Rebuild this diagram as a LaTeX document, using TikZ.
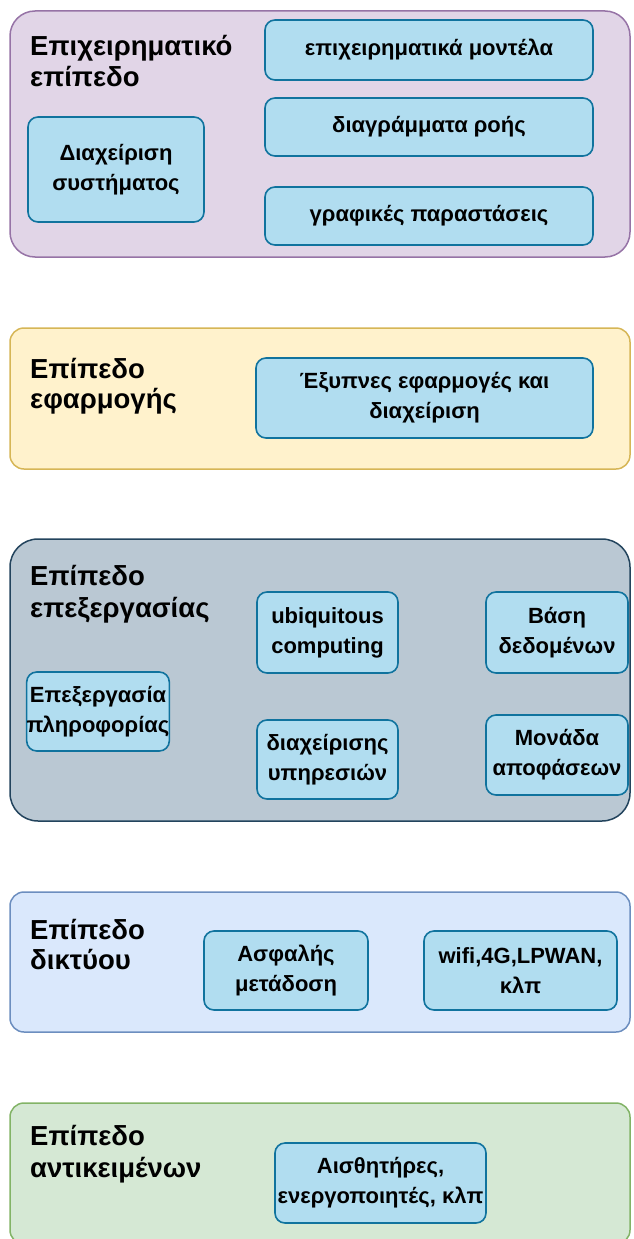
\documentclass[tikz,border=0pt]{standalone}
\usepackage{fontspec}
\setmainfont{Liberation Sans}
\definecolor{purpleFill}{HTML}{E1D5E7}
\definecolor{purpleLine}{HTML}{9673A6}
\definecolor{yellowFill}{HTML}{FFF2CC}
\definecolor{yellowLine}{HTML}{D6B656}
\definecolor{slateFill}{HTML}{BAC8D3}
\definecolor{slateLine}{HTML}{23445D}
\definecolor{blueFill}{HTML}{DAE8FC}
\definecolor{blueLine}{HTML}{6C8EBF}
\definecolor{greenFill}{HTML}{D5E8D4}
\definecolor{greenLine}{HTML}{82B366}
\definecolor{cellFill}{HTML}{B1DDF0}
\definecolor{cellLine}{HTML}{10739E}
\tikzset{
  layer/.style={line width=1.5pt, inner sep=0pt, rounded corners=#1},
  layertitle/.style={anchor=base west, inner sep=0pt,
    font=\fontsize{27.5}{31}\selectfont\bfseries},
  cell/.style={draw=cellLine, fill=cellFill, line width=1.6pt, inner sep=0pt,
    rounded corners=10pt, align=center,
    font=\fontsize{22}{30}\selectfont\bfseries},
}
\begin{document}
\begin{tikzpicture}[x=1pt, y=-1pt]
\useasboundingbox (0,0) rectangle (633,1239);

% business layer
\node[layer=25pt, draw=purpleLine, fill=purpleFill,
      minimum width=620pt, minimum height=246pt] (L1) at (320,134) {};
\node[layertitle] (t1a) at (30,56) {Επιχειρηματικό};
\node[layertitle] (t1b) at (30,86) {επίπεδο};
\node[cell, minimum width=328pt, minimum height=60pt] (a1) at (429,50) {επιχειρηματικά μοντέλα};
\node[cell, minimum width=328pt, minimum height=58pt] (a2) at (429,127) {διαγράμματα ροής};
\node[cell, minimum width=328pt, minimum height=58pt] (a3) at (429,216) {γραφικές παραστάσεις};
\node[cell, minimum width=176pt, minimum height=105pt] (a4) at (116,169.5) {Διαχείριση\\συστήματος};

% application layer
\node[layer=14pt, draw=yellowLine, fill=yellowFill,
      minimum width=620pt, minimum height=141pt] (L2) at (320,398.5) {};
\node[layertitle] (t2a) at (30,378) {Επίπεδο};
\node[layertitle] (t2b) at (30,408) {εφαρμογής};
\node[cell, minimum width=337pt, minimum height=80pt] (b1) at (424.5,398) {Έξυπνες εφαρμογές και\\διαχείριση};

% processing layer
\node[layer=28pt, draw=slateLine, fill=slateFill,
      minimum width=620pt, minimum height=282pt] (L3) at (320,680) {};
\node[layertitle] (t3a) at (30,585) {Επίπεδο};
\node[layertitle] (t3b) at (30,617) {επεξεργασίας};
\node[cell, minimum width=141pt, minimum height=81pt] (c1) at (327.5,632.5) {ubiquitous\\computing};
\node[cell, minimum width=142pt, minimum height=81pt] (c2) at (557,632.5) {Βάση\\δεδομένων};
\node[cell, minimum width=142pt, minimum height=79pt] (c3) at (98,711.5) {Επεξεργασία\\πληροφορίας};
\node[cell, minimum width=141pt, minimum height=79pt] (c4) at (327.5,759.5) {διαχείρισης\\υπηρεσιών};
\node[cell, minimum width=142pt, minimum height=80pt] (c5) at (557,755) {Μονάδα\\αποφάσεων};

% network layer
\node[layer=14pt, draw=blueLine, fill=blueFill,
      minimum width=620pt, minimum height=140pt] (L4) at (320,962) {};
\node[layertitle] (t4a) at (30,939) {Επίπεδο};
\node[layertitle] (t4b) at (30,969) {δικτύου};
\node[cell, minimum width=164pt, minimum height=79pt] (d1) at (286,970.5) {Ασφαλής\\μετάδοση};
\node[cell, minimum width=193pt, minimum height=79pt] (d2) at (520.5,970.5) {wifi,4G,LPWAN,\\κλπ};

% object layer
\node[layer=14pt, draw=greenLine, fill=greenFill,
      minimum width=620pt, minimum height=141pt] (L5) at (320,1173.5) {};
\node[layertitle] (t5a) at (30,1145) {Επίπεδο};
\node[layertitle] (t5b) at (30,1177) {αντικειμένων};
\node[cell, minimum width=211pt, minimum height=80pt] (e1) at (380.5,1183) {Αισθητήρες,\\ενεργοποιητές, κλπ};
\end{tikzpicture}
\end{document}
